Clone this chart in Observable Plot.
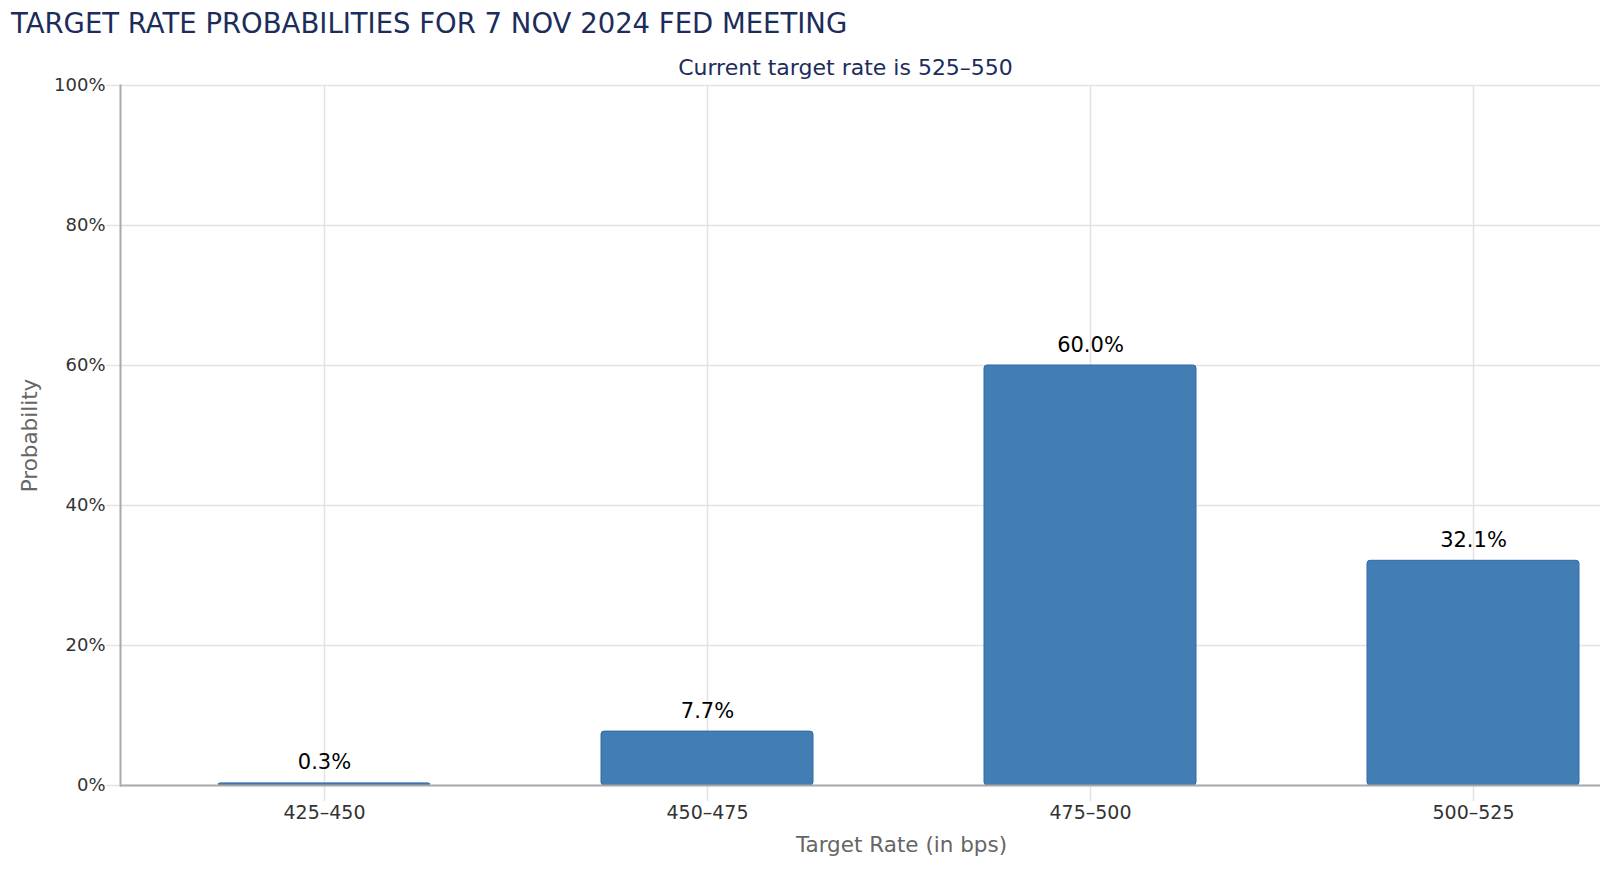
<!DOCTYPE html>
<html><head><meta charset="utf-8">
<script src="https://cdn.jsdelivr.net/npm/d3@7"></script>
<script src="https://cdn.jsdelivr.net/npm/@observablehq/plot@0.6"></script>
<style>
body{margin:0;background:#fff;font-family:"DejaVu Sans",sans-serif;}
#title{height:46px;padding-left:11px;font-size:27.5px;color:#1c2c5b;line-height:46px;white-space:nowrap;}
#chart svg{display:block;}
</style></head><body>
<div id="title">TARGET RATE PROBABILITIES FOR 7 NOV 2024 FED MEETING</div>
<div id="chart"></div>
<script>
const categories = ["425–450", "450–475", "475–500", "500–525"];
const probabilities = [0.3, 7.7, 60.0, 32.1];
const yTicks = [0, 20, 40, 60, 80, 100];
const subtitle = "Current target rate is 525–550";
const xLabel = "Target Rate (in bps)";
const yLabel = "Probability";

const data = categories.map((c, i) => ({rate: c, p: probabilities[i]}));

const chart = Plot.plot({
  width: 1600, height: 828,
  marginLeft: 120, marginRight: 0, marginTop: 39, marginBottom: 89,
  style: {fontFamily: "DejaVu Sans", background: "#fff", overflow: "visible"},
  x: {type: "band", domain: categories, range: [131.67, 1665], paddingInner: 0.447, paddingOuter: 0.2235},
  y: {domain: [0, 100]},
  marks: [
    Plot.gridY(yTicks, {stroke: "#e3e3e3", strokeOpacity: 1, strokeWidth: 1.5}),
    Plot.gridX(categories, {stroke: "#e3e3e3", strokeOpacity: 1, strokeWidth: 1.5}),
    Plot.axisY(yTicks, {tickSize: 14, text: null, stroke: "#e3e3e3", strokeWidth: 1.5, label: null}),
    Plot.axisY(yTicks, {tickSize: 0, tickPadding: 15, tickFormat: d => d + "%", fontSize: 18, fill: "#333", label: null}),
    Plot.axisX(categories, {tickSize: 16, text: null, stroke: "#e3e3e3", strokeWidth: 1.5, label: null}),
    Plot.axisX(categories, {tickSize: 0, tickPadding: 20, fontSize: 19, fill: "#333", label: null}),
    Plot.barY(data, {x: "rate", y: "p", fill: "#427eb4", stroke: "#2e6aa8", strokeWidth: 1, rx: 3}),
    Plot.ruleY([0], {stroke: "#aaa", strokeWidth: 2}),
    Plot.frame({anchor: "left", stroke: "#aaa", strokeWidth: 2}),
    Plot.text(data, {x: "rate", y: "p", text: d => d.p.toFixed(1) + "%", dy: -14, lineAnchor: "bottom", fontSize: 21, fill: "#000"}),
    Plot.text([subtitle], {text: d => d, frameAnchor: "top", dx: -15, dy: -11, lineAnchor: "bottom", fontSize: 22, fill: "#1c2c5b"}),
    Plot.text([xLabel], {text: d => d, frameAnchor: "bottom", dx: 41, dy: 66, lineAnchor: "bottom", fontSize: 21.5, fill: "#666"}),
    Plot.text([yLabel], {text: d => d, frameAnchor: "left", textAnchor: "middle", dx: -90, rotate: -90, fontSize: 21.5, fill: "#666"})
  ]
});
document.getElementById("chart").appendChild(chart);
</script>
</body></html>
